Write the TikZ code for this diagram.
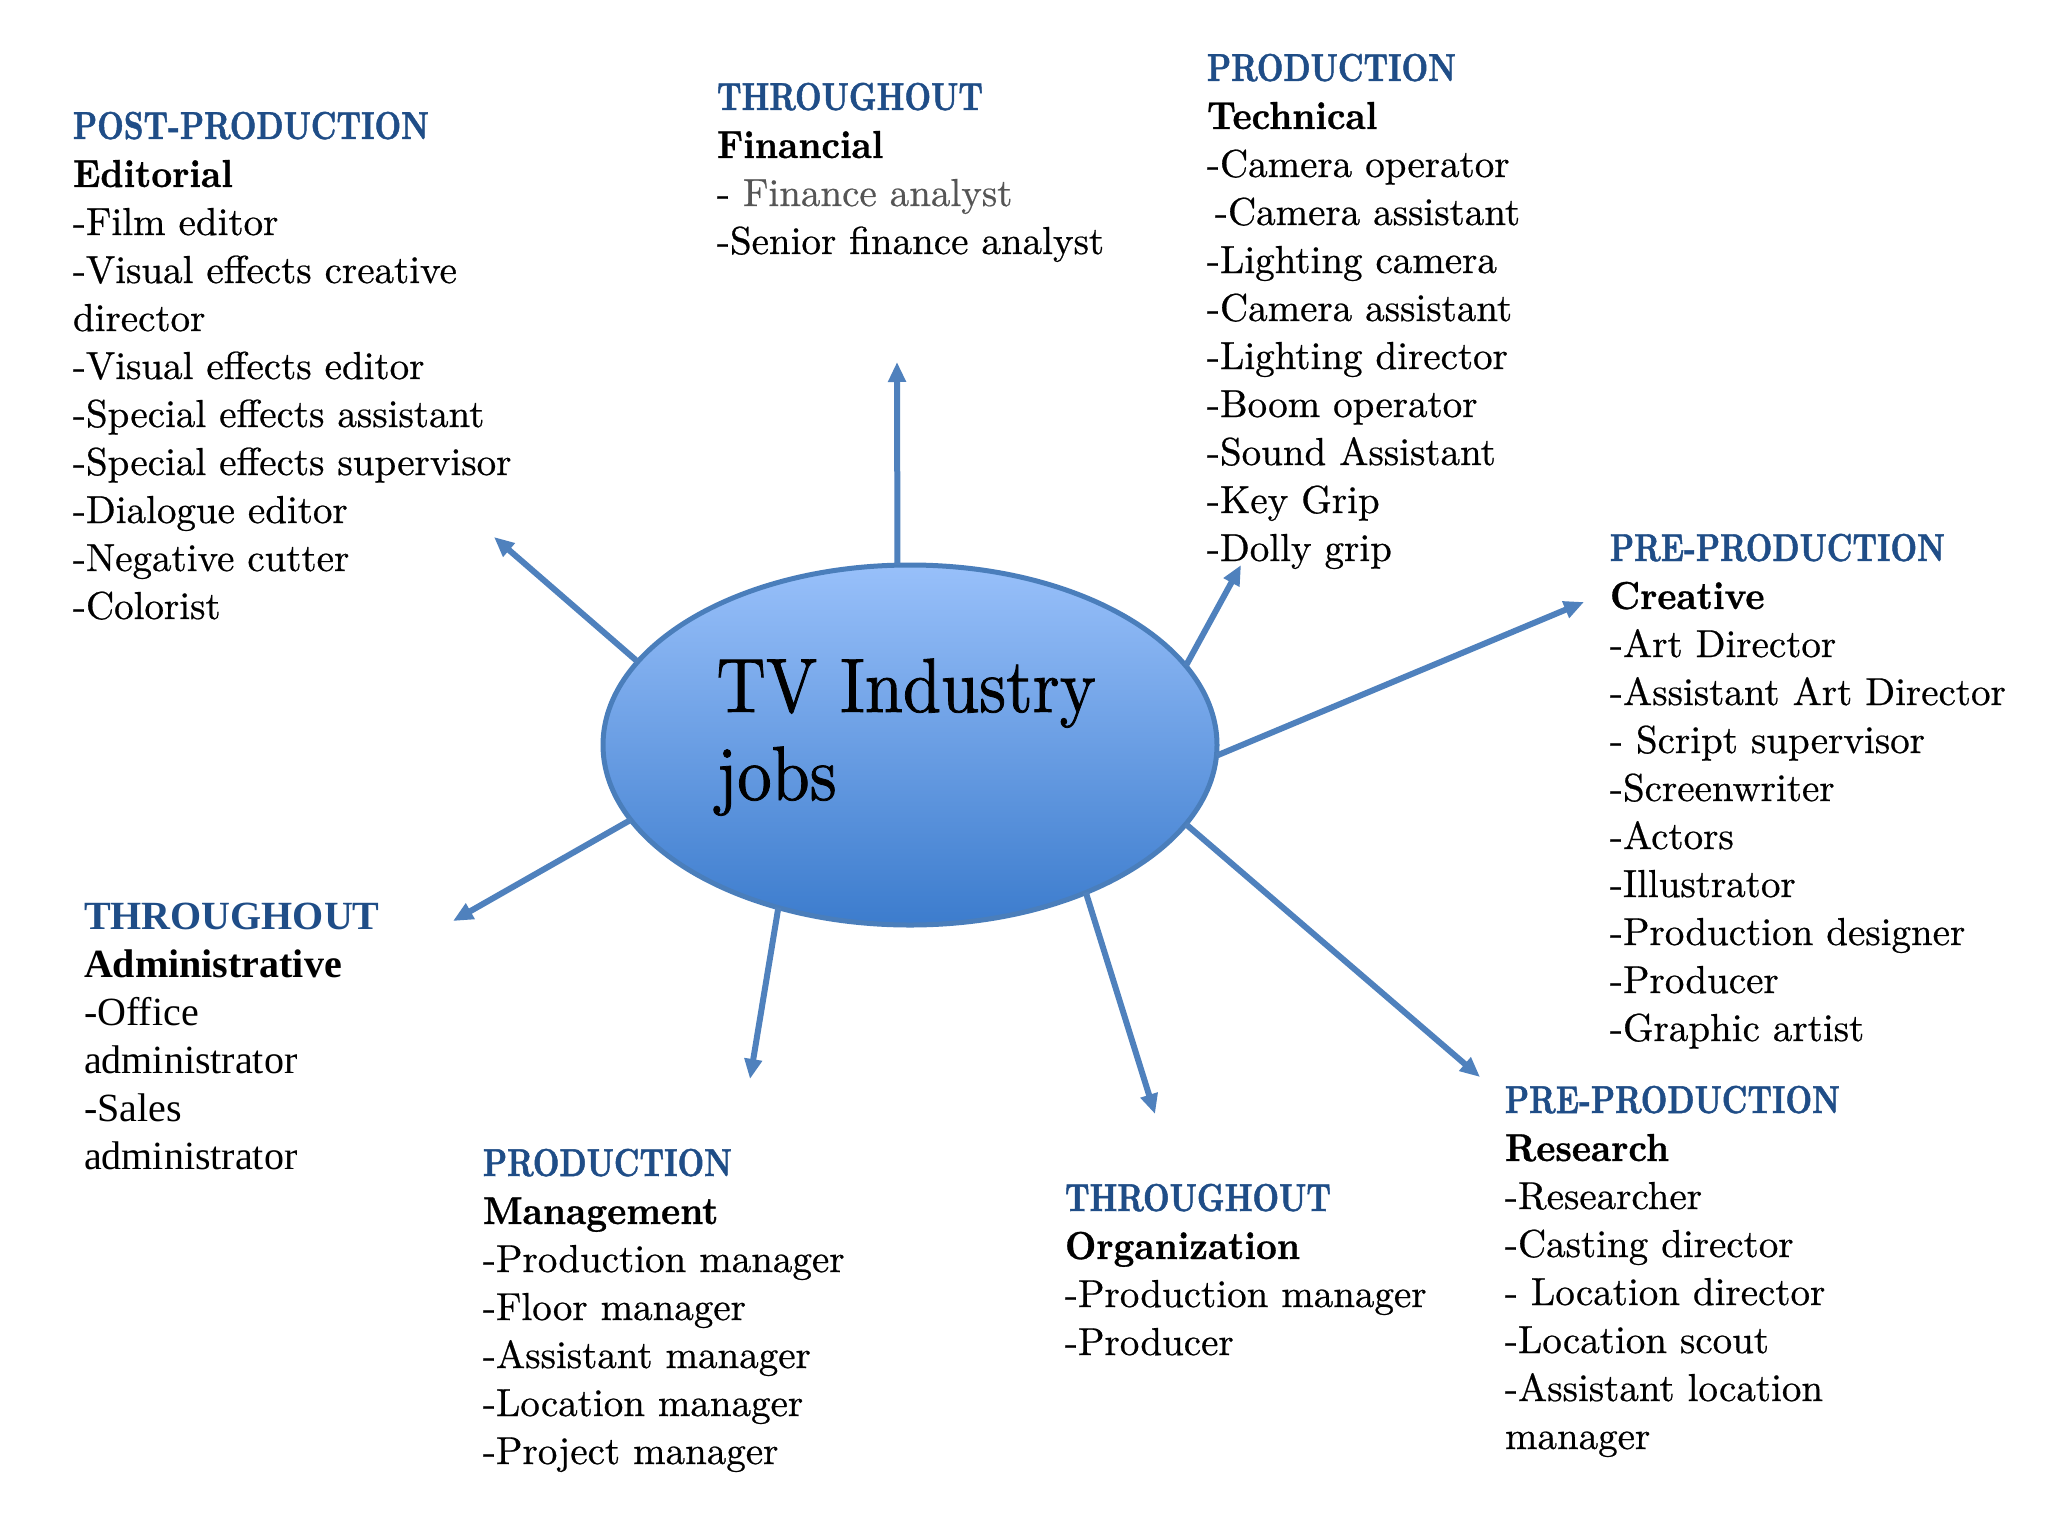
\documentclass[tikz,border=0pt]{standalone}
\usepackage{fontspec}
\usetikzlibrary{arrows.meta,shapes.geometric}
\setmainfont{lmroman10-regular.otf}[BoldFont=lmroman10-bold.otf,ItalicFont=lmroman10-italic.otf,FakeBold=0.6]
\newfontfamily\hdfont{lmroman10-bold.otf}[FakeStretch=0.79,FakeBold=1.2]
\newfontfamily\subfont{lmroman10-bold.otf}[FakeStretch=0.93,FakeBold=0.8]
\newfontfamily\ttlfont{lmroman10-regular.otf}[FakeStretch=0.89,FakeBold=1.0]
\newfontfamily\tmsfont{Liberation Serif}
\definecolor{hdblue}{RGB}{31,77,135}
\definecolor{arrblue}{RGB}{79,129,189}
\definecolor{elltop}{RGB}{152,192,250}
\definecolor{ellbot}{RGB}{60,124,205}
\definecolor{ellline}{RGB}{74,126,187}
\definecolor{grytxt}{RGB}{85,85,85}
\newcommand{\hd}[1]{{\color{hdblue}\hdfont #1}}
\newcommand{\sh}[1]{{\subfont #1}}
\newcommand{\blk}[1]{\begin{tabular}[t]{@{}l@{}}#1\end{tabular}}
\tikzset{
  txtblock/.style={anchor=base west, inner sep=0pt, outer sep=0pt, font=\fontsize{19.5}{24}\selectfont},
  arr/.style={draw=arrblue, line width=3pt, -{Triangle[length=10pt,width=8.5pt]}},
  ell/.style={ellipse, minimum width=307pt, minimum height=180pt, inner sep=0pt, outer sep=0pt,
    draw=ellline, line width=2.5pt, top color=elltop, bottom color=ellbot}
}
\begin{document}
\begin{tikzpicture}[x=0.5pt,y=-0.5pt]
\useasboundingbox (0,0) rectangle (2048,1536);
\fill[white] (0,0) rectangle (2048,1536);

% arrow end points
\coordinate (tUp) at (897,362);
\coordinate (tUL) at (494,537);
\coordinate (tUR) at (1241,565);
\coordinate (tR) at (1584,602);
\coordinate (tLR) at (1480,1077);
\coordinate (tDR) at (1155,1114);
\coordinate (tDL) at (750,1079);
\coordinate (tL) at (453,921);

\node[ell] (tv) at (910,745) {};
\node[anchor=base west, inner sep=0pt, font=\ttlfont\fontsize{38.5}{44}\selectfont] (tvtext) at (716,712)
  {\blk{TV Industry\\ jobs}};

\draw[arr] (tv.94.1) -- (tUp);
\draw[arr] (tv.163.5) -- (tUL);
\draw[arr] (tv.16.6) -- (tUR);
\draw[arr] (tv.-2) -- (tR);
\draw[arr] (tv.-16.4) -- (tLR);
\draw[arr] (tv.-40.8) -- (tDR);
\draw[arr] (tv.231.1) -- (tDL);
\draw[arr] (tv.195.1) -- (tL);

\node[txtblock] (post) at (73,139) {\blk{\hd{POST-PRODUCTION}\\ \sh{Editorial}\\ -Film editor\\ -Visual effects creative\\ director\\ -Visual effects editor\\ -Special effects assistant\\ -Special effects supervisor\\ -Dialogue editor\\ -Negative cutter\\ -Colorist}};

\node[txtblock] (fin) at (717,110) {\blk{\hd{THROUGHOUT}\\ \sh{Financial}\\ - {\color{grytxt}Finance analyst}\\ -Senior finance analyst}};

\node[txtblock] (tech) at (1207,81) {\blk{\hd{PRODUCTION}\\ \sh{Technical}\\ -Camera operator\\ \hspace*{4pt}-Camera assistant\\ -Lighting camera\\ -Camera assistant\\ -Lighting director\\ -Boom operator\\ -Sound Assistant\\ -Key Grip\\ -Dolly grip}};

\node[txtblock] (creat) at (1610,561) {\blk{\hd{PRE-PRODUCTION}\\ \sh{Creative}\\ -Art Director\\ -Assistant Art Director\\ - Script supervisor\\ -Screenwriter\\ -Actors\\ -Illustrator\\ -Production designer\\ -Producer\\ -Graphic artist}};

\node[txtblock] (res) at (1505,1113) {\blk{\hd{PRE-PRODUCTION}\\ \sh{Research}\\ -Researcher\\ -Casting director\\ - Location director\\ -Location scout\\ -Assistant location\\ manager}};

\node[txtblock] (org) at (1065,1211) {\blk{\hd{THROUGHOUT}\\ \sh{Organization}\\ -Production manager\\ -Producer}};

\node[txtblock] (mgmt) at (483,1176) {\blk{\hd{PRODUCTION}\\ \sh{Management}\\ -Production manager\\ -Floor manager\\ -Assistant manager\\ -Location manager\\ -Project manager}};

\node[txtblock, font=\tmsfont\fontsize{20}{24}\selectfont] (admin) at (84,929) {\blk{{\color{hdblue}\bfseries THROUGHOUT}\\ {\bfseries Administrative}\\ -Office\\ administrator\\ -Sales\\ administrator}};
\end{tikzpicture}
\end{document}
